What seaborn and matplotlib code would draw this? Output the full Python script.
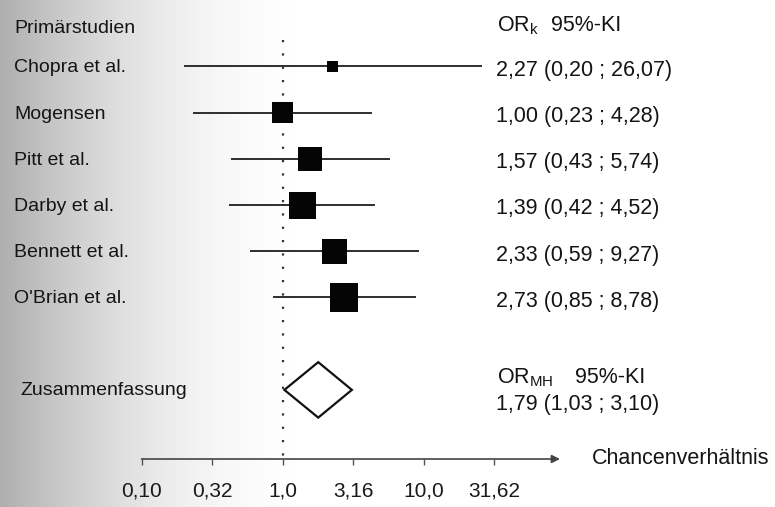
import numpy as np
import pandas as pd
import matplotlib
matplotlib.use("Agg")
import matplotlib.pyplot as plt
from matplotlib.ticker import NullLocator
import seaborn as sns

# Daten (Odds Ratios mit 95%-KI)
studien = ["Chopra et al.", "Mogensen", "Pitt et al.", "Darby et al.",
           "Bennett et al.", "O'Brian et al."]
or_k = [2.27, 1.00, 1.57, 1.39, 2.33, 2.73]
ki_unten = [0.20, 0.23, 0.43, 0.42, 0.59, 0.85]
ki_oben = [26.07, 4.28, 5.74, 4.52, 9.27, 8.78]
gewichte = [3.7, 13.4, 18.2, 22.1, 18.2, 24.6]  # relative Gewichte (Kastenflaeche)
or_labels = ["2,27 (0,20 ; 26,07)", "1,00 (0,23 ; 4,28)", "1,57 (0,43 ; 5,74)",
             "1,39 (0,42 ; 4,52)", "2,33 (0,59 ; 9,27)", "2,73 (0,85 ; 8,78)"]

or_mh = 1.79
ki_mh = (1.03, 3.10)
mh_label = "1,79 (1,03 ; 3,10)"

ticks = [0.10, 0.316, 1.0, 3.16, 10.0, 31.62]
tick_labels = ["0,10", "0,32", "1,0", "3,16", "10,0", "31,62"]

df = pd.DataFrame({"studie": studien, "or": or_k, "lo": ki_unten,
                   "hi": ki_oben, "w": gewichte})
df["zeile"] = range(len(df))
zeile_mh = len(df) + 1

sns.set_theme(style="white")
plt.rcParams["font.family"] = ["Liberation Sans", "DejaVu Sans"]
plt.rcParams["mathtext.fontset"] = "custom"
plt.rcParams["mathtext.rm"] = "Liberation Sans"
plt.rcParams["mathtext.it"] = "Liberation Sans:italic"

fig = plt.figure(figsize=(7.75, 5.07), dpi=100)

# grauer Scan-Verlauf am linken Rand
bg = fig.add_axes([0, 0, 1, 1], zorder=-1)
xs = np.arange(775)
v = 1 - 0.32 * np.clip(1 - xs / 330, 0, 1) ** 2
bg.imshow(np.tile(v, (10, 1)), aspect="auto", cmap="gray", vmin=0, vmax=1,
          extent=(0, 1, 0, 1))
bg.axis("off")

ax = fig.add_axes([0, 48 / 507, 1, 459 / 507])
ax.patch.set_alpha(0)
ax.set_xscale("log")
ax.set_xlim(10 ** -2.004, 10 ** 3.492)
ax.set_ylim(8.496, -1.439)

# Konfidenzintervalle
ax.hlines(df["zeile"], df["lo"], df["hi"], color="#2e2e2e", lw=1.4, zorder=2)

# Kaesten, Flaeche ~ Gewicht
sns.scatterplot(data=df, x="or", y="zeile", size="w", sizes=(62, 420),
                marker="s", color="#050505", linewidth=0, legend=False,
                ax=ax, zorder=3)

# Linie bei OR = 1
ax.vlines(1.0, -0.57, 8.45, color="#333333", lw=1.6,
          linestyle=(0, (1, 5)), zorder=1)

# Raute fuer die Zusammenfassung
ax.fill([ki_mh[0], or_mh, ki_mh[1], or_mh],
        [zeile_mh, zeile_mh - 0.6, zeile_mh, zeile_mh + 0.6],
        facecolor="white", edgecolor="#111111", lw=1.6, zorder=3)

# Achse mit Pfeil
for s in ax.spines.values():
    s.set_visible(False)
ax.annotate("", xy=(92.7, 0), xytext=(0.1, 0),
            xycoords=ax.get_xaxis_transform(),
            arrowprops=dict(arrowstyle="-|>", color="#444444", lw=1.2,
                            shrinkA=0, shrinkB=0, mutation_scale=12))
ax.set_xticks(ticks)
ax.set_xticklabels(tick_labels)
ax.xaxis.set_minor_locator(NullLocator())
ax.tick_params(axis="x", bottom=True, direction="out", length=4.5, width=1,
               color="#555555", pad=12, labelsize=15, labelcolor="#1a1a1a")
ax.set_yticks([])
ax.set_xlabel("")
ax.set_ylabel("")

tr = ax.get_yaxis_transform()
txt = dict(transform=tr, color="#141414", va="baseline")

ax.text(14 / 775, -0.725, "Primärstudien", fontsize=14, **txt)
for name, r in zip(df["studie"], df["zeile"]):
    ax.text(14 / 775, r + 0.13, name, fontsize=14, **txt)
ax.text(20 / 775, 7.11, "Zusammenfassung", fontsize=14, **txt)

ax.text(497 / 775, -0.77, r"OR$_{\mathrm{k}}$", fontsize=15.5, **txt)
ax.text(551 / 775, -0.77, "95%-KI", fontsize=15.5, **txt)
for lab, r in zip(or_labels, df["zeile"]):
    ax.text(496 / 775, r + 0.2, lab, fontsize=15.5, **txt)
ax.text(497 / 775, 6.85, r"OR$_{\mathrm{MH}}$", fontsize=15.5, **txt)
ax.text(575 / 775, 6.85, "95%-KI", fontsize=15.5, **txt)
ax.text(496 / 775, 7.44, mh_label, fontsize=15.5, **txt)

ax.text(592 / 775, 0, "Chancenverhältnis", fontsize=15.5, color="#141414",
        transform=ax.transAxes, va="center")

fig.savefig("out.png", dpi=100)
